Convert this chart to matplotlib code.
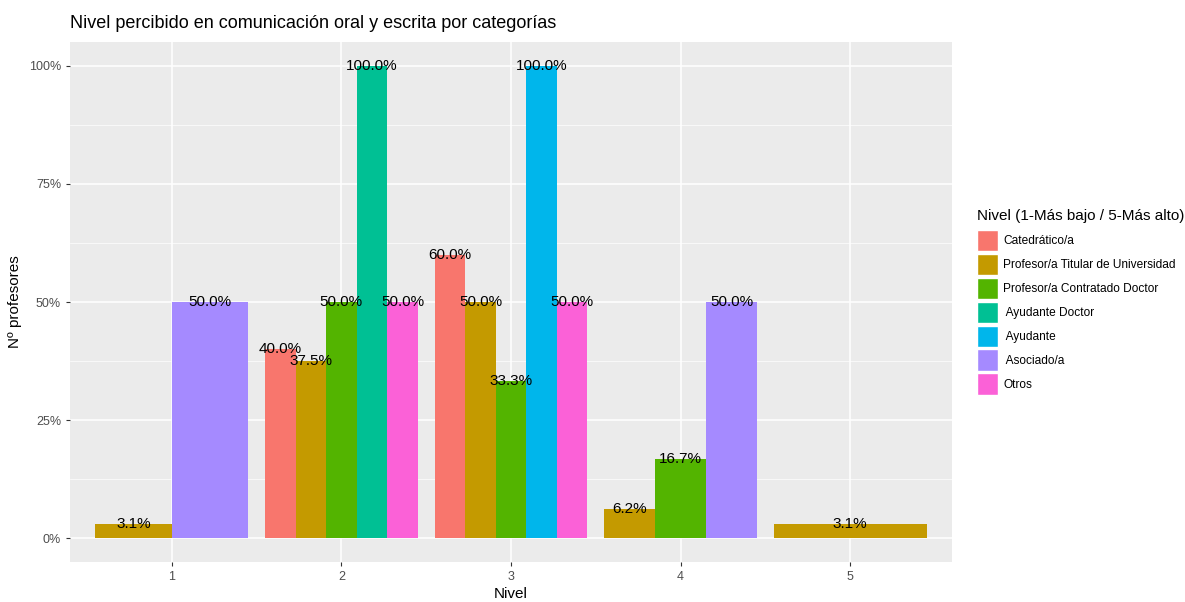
import matplotlib.pyplot as plt
from matplotlib.patches import Patch
from matplotlib.ticker import FixedLocator
import numpy as np

plt.rcParams['font.family'] = ['Liberation Sans', 'DejaVu Sans']

levels = [1, 2, 3, 4, 5]
categories = ['Catedrático/a', 'Profesor/a Titular de Universidad',
              'Profesor/a Contratado Doctor', ' Ayudante Doctor',
              ' Ayudante', ' Asociado/a', 'Otros']
colors = ['#F8766D', '#C49A00', '#53B400', '#00C094',
          '#00B6EB', '#A58AFF', '#FB61D7']

# percentages per category, nan = no bar at that level
catedratico = [np.nan, 40.0, 60.0, np.nan, np.nan]
titular = [3.1, 37.5, 50.0, 6.2, 3.1]
contratado = [np.nan, 50.0, 33.3, 16.7, np.nan]
ayudante_doctor = [np.nan, 100.0, np.nan, np.nan, np.nan]
ayudante = [np.nan, np.nan, 100.0, np.nan, np.nan]
asociado = [50.0, np.nan, np.nan, 50.0, np.nan]
otros = [np.nan, 50.0, 50.0, np.nan, np.nan]

series = [catedratico, titular, contratado, ayudante_doctor,
          ayudante, asociado, otros]

fig = plt.figure(figsize=(11.85, 6.02), dpi=100)
ax = fig.add_axes([70/1185, 1 - 562/602, 882/1185, 520/602])
ax.set_facecolor('#EBEBEB')

for j, lev in enumerate(levels):
    present = [k for k in range(len(series)) if not np.isnan(series[k][j])]
    w = 0.9 / len(present)
    for i, k in enumerate(present):
        x = lev - 0.45 + w * (i + 0.5)
        v = series[k][j]
        ax.bar(x, v, width=w, color=colors[k], zorder=3)
        ax.text(x, v, '%.1f%%' % v, ha='center', va='center',
                fontsize=11, color='black', zorder=4)

ax.set_xlim(0.4, 5.6)
ax.set_ylim(-5, 105)
ax.set_xticks(levels)
ax.set_yticks([0, 25, 50, 75, 100])
ax.set_yticklabels(['0%', '25%', '50%', '75%', '100%'])
ax.yaxis.set_minor_locator(FixedLocator([12.5, 37.5, 62.5, 87.5]))
ax.grid(which='major', color='white', linewidth=1.1, zorder=0)
ax.grid(which='minor', axis='y', color='white', linewidth=0.5, zorder=0)
ax.tick_params(which='major', colors='#333333', labelsize=9, length=3,
               width=0.8, labelcolor='#4D4D4D')
ax.tick_params(which='minor', length=0)
for s in ax.spines.values():
    s.set_visible(False)

ax.set_xlabel('Nivel', fontsize=11, labelpad=3)
ax.set_ylabel('Nº profesores', fontsize=11, labelpad=5)
ax.set_title('Nivel percibido en comunicación oral y escrita por categorías',
             fontsize=13, loc='left', x=0, pad=10)

handles = [Patch(facecolor=c, edgecolor='white') for c in colors]
leg = fig.legend(handles, categories, loc='upper left',
                 bbox_to_anchor=(972/1185, 1 - 204/602),
                 title='Nivel (1-Más bajo / 5-Más alto)', title_fontsize=11,
                 fontsize=8.6, frameon=False, handlelength=1.75,
                 handleheight=2.4, handletextpad=0.45, labelspacing=0.2,
                 borderaxespad=0)
leg._legend_box.align = 'left'
leg._legend_box.sep = 5

fig.savefig('out.png', dpi=100)
